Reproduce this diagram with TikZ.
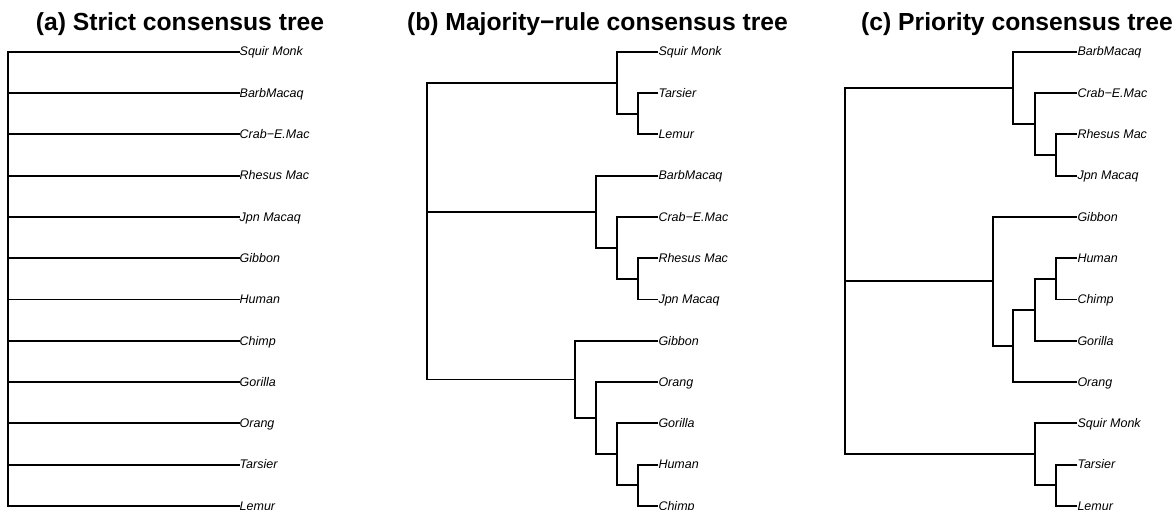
\documentclass[tikz,border=0pt]{standalone}
\usepackage{fontspec}
\setmainfont{Liberation Sans}
\begin{document}
\begin{tikzpicture}[x=1pt,y=-1pt,
  br/.style={line width=1.9pt, line join=miter},
  lab/.style={anchor=base west, inner sep=0pt, yshift=-4.3pt, font=\fontsize{12.5}{14}\selectfont\itshape},
  ttl/.style={anchor=base, inner sep=0pt, font=\fontsize{24.7}{28}\selectfont\bfseries}]
\path[use as bounding box] (0,0) rectangle (1176,510);
% titles
\node[ttl] (ta) at (180,31) {(a) Strict consensus tree};
\node[ttl] (tb) at (597.5,31) {(b) Majority−rule consensus tree};
\node[ttl] (tc) at (1017,31) {(c) Priority consensus tree};
% panel a
\foreach \n [count=\i from 0] in {Squir Monk,BarbMacaq,Crab−E.Mac,Rhesus Mac,Jpn Macaq,Gibbon,Human,Chimp,Gorilla,Orang,Tarsier,Lemur}{
  \coordinate (a\i) at (239.5,51.7+41.3*\i);
  \node[lab] (al\i) at (a\i) {\n};
}
\coordinate (ar) at (8.3,280);
\draw[br] (a0) -| (ar) |- (a11);
\foreach \i in {1,...,10}{\draw[br] (ar |- a\i) -- (a\i);}
% panel b
\foreach \n [count=\i from 0] in {Squir Monk,Tarsier,Lemur,BarbMacaq,Crab−E.Mac,Rhesus Mac,Jpn Macaq,Gibbon,Orang,Gorilla,Human,Chimp}{
  \coordinate (b\i) at (658.3,51.7+41.3*\i);
  \node[lab] (bl\i) at (b\i) {\n};
}
\coordinate (bTL) at (637.7,113.65);
\coordinate (bA) at (616.7,82.675);
\coordinate (bRJ) at (637.7,278.85);
\coordinate (bCr) at (616.7,247.875);
\coordinate (bM) at (595.6,211.74);
\coordinate (bHC) at (637.7,485.35);
\coordinate (bG) at (616.7,454.375);
\coordinate (bO) at (595.6,418.24);
\coordinate (bGi) at (574.7,379.52);
\coordinate (bR) at (426.7,231);
\draw[br] (b1) -| (bTL) |- (b2);
\draw[br] (b0) -| (bA) |- (bTL);
\draw[br] (b5) -| (bRJ) |- (b6);
\draw[br] (b4) -| (bCr) |- (bRJ);
\draw[br] (b3) -| (bM) |- (bCr);
\draw[br] (b10) -| (bHC) |- (b11);
\draw[br] (b9) -| (bG) |- (bHC);
\draw[br] (b8) -| (bO) |- (bG);
\draw[br] (b7) -| (bGi) |- (bO);
\draw[br] (bA) -| (bR) |- (bGi);
\draw[br] (bR |- bM) -- (bM);
% panel c
\foreach \n [count=\i from 0] in {BarbMacaq,Crab−E.Mac,Rhesus Mac,Jpn Macaq,Gibbon,Human,Chimp,Gorilla,Orang,Squir Monk,Tarsier,Lemur}{
  \coordinate (c\i) at (1077.3,51.7+41.3*\i);
  \node[lab] (cl\i) at (c\i) {\n};
}
\coordinate (cRJ) at (1056,154.95);
\coordinate (cCr) at (1035,123.975);
\coordinate (cM) at (1013.3,87.84);
\coordinate (cHC) at (1056,278.85);
\coordinate (cHCG) at (1035,309.825);
\coordinate (cO) at (1013.3,345.96);
\coordinate (cGi) at (992.7,281.43);
\coordinate (cTL) at (1056,485.35);
\coordinate (cS) at (1035,454.375);
\coordinate (cR) at (845,270);
\draw[br] (c2) -| (cRJ) |- (c3);
\draw[br] (c1) -| (cCr) |- (cRJ);
\draw[br] (c0) -| (cM) |- (cCr);
\draw[br] (c5) -| (cHC) |- (c6);
\draw[br] (cHC) -| (cHCG) |- (c7);
\draw[br] (cHCG) -| (cO) |- (c8);
\draw[br] (c4) -| (cGi) |- (cO);
\draw[br] (c10) -| (cTL) |- (c11);
\draw[br] (c9) -| (cS) |- (cTL);
\draw[br] (cM) -| (cR) |- (cS);
\draw[br] (cR |- cGi) -- (cGi);
\end{tikzpicture}
\end{document}
